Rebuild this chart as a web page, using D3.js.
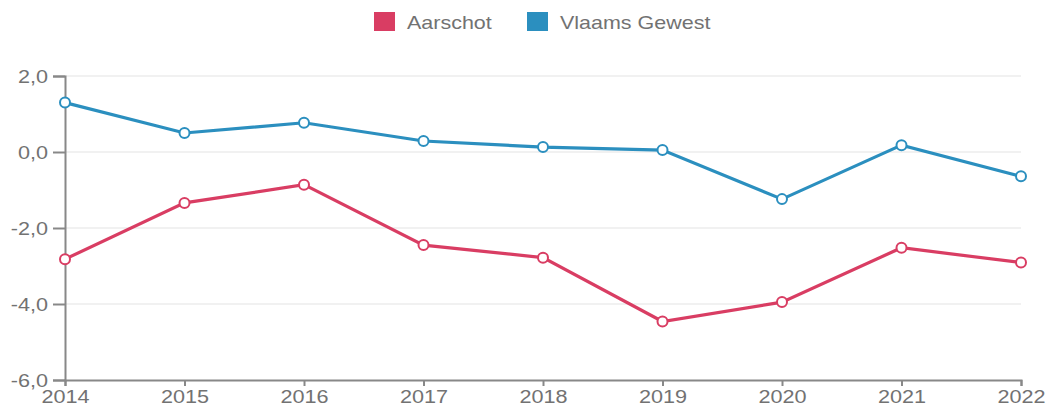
<!DOCTYPE html>
<html>
<head>
<meta charset="utf-8">
<script src="https://cdn.jsdelivr.net/npm/d3@7"></script>
<style>
  body { margin: 0; background: #fff; }
  text { font-family: "Liberation Sans", Arial, sans-serif; fill: #727272; }
</style>
</head>
<body>
<div id="chart"></div>
<script>
const years = [2014, 2015, 2016, 2017, 2018, 2019, 2020, 2021, 2022]
const aarschot = [-2.82, -1.34, -0.86, -2.45, -2.78, -4.46, -3.95, -2.52, -2.91]
const vlaams = [1.30, 0.50, 0.77, 0.29, 0.13, 0.05, -1.24, 0.18, -0.64]
const yTicks = [-6, -4, -2, 0, 2]
const seriesNames = ['Aarschot', 'Vlaams Gewest']
const seriesColors = ['#d93d63', '#2b8fbf']

const width = 1049
const height = 414
const margin = {top: 76, right: 28, bottom: 34, left: 65}

const svg = d3.select('#chart')
	.append('svg')
	.attr('width', width)
	.attr('height', height)

let xScale = d3.scaleLinear()
	.domain([2014, 2022])
	.range([margin.left, width - margin.right])

let yScale = d3.scaleLinear()
	.domain([-6, 2])
	.range([height - margin.bottom, margin.top])

// text in the original is drawn a bit wider than normal
function widen(sel, k){
	sel.each(function(){
		let w = this.getComputedTextLength()
		d3.select(this).attr('textLength', w * k).attr('lengthAdjust', 'spacingAndGlyphs')
	})
}

// gridlines
svg.selectAll('gridLines')
	.data(yTicks.filter(d => d != -6))
	.enter()
	.append('line')
	.attr('x1', margin.left)
	.attr('x2', width - margin.right)
	.attr('y1', d => yScale(d))
	.attr('y2', d => yScale(d))
	.attr('stroke', '#ececec')
	.attr('stroke-width', 1.5)

let fmt = d => d3.format('.1f')(d).replace('.', ',').replace('−', '-')

let yAxis = svg.append('g')
	.attr('transform', `translate(${margin.left},0)`)
	.call(d3.axisLeft(yScale).tickValues(yTicks).tickSize(12).tickPadding(5).tickFormat(fmt))

let xAxis = svg.append('g')
	.attr('transform', `translate(0,${height - margin.bottom})`)
	.call(d3.axisBottom(xScale).tickValues(years).tickSize(6).tickPadding(4).tickFormat(d3.format('d')))

;[xAxis, yAxis].forEach(function(a){
	a.select('.domain').attr('stroke', '#888').attr('stroke-width', 2)
	a.selectAll('.tick line').attr('stroke', '#888').attr('stroke-width', 2)
	a.selectAll('text').style('font-size', '18px').style('fill', '#727272')
	widen(a.selectAll('text'), 1.2)
})
yAxis.selectAll('text').attr('dy', '0.35em')

let line = d3.line()
	.x((d, i) => xScale(years[i]))
	.y(d => yScale(d))

;[aarschot, vlaams].forEach(function(values, s){
	svg.append('path')
		.datum(values)
		.attr('d', line)
		.attr('stroke', seriesColors[s])
		.attr('stroke-width', 3.2)
		.attr('fill', 'none')

	svg.selectAll('pts' + s)
		.data(values)
		.enter()
		.append('circle')
		.attr('r', 5)
		.attr('cx', (d, i) => xScale(years[i]))
		.attr('cy', d => yScale(d))
		.attr('fill', 'white')
		.attr('stroke', seriesColors[s])
		.attr('stroke-width', 2)
})

// legend
const legendX = [374, 527]
seriesNames.forEach(function(name, i){
	let g = svg.append('g').attr('transform', `translate(${legendX[i]},12)`)
	g.append('rect')
		.attr('width', 21)
		.attr('height', 19)
		.attr('fill', seriesColors[i])
	g.append('text')
		.attr('x', 33)
		.attr('y', 16.5)
		.style('font-size', '19px')
		.text(name)
		.call(widen, 1.13)
})
</script>
</body>
</html>
